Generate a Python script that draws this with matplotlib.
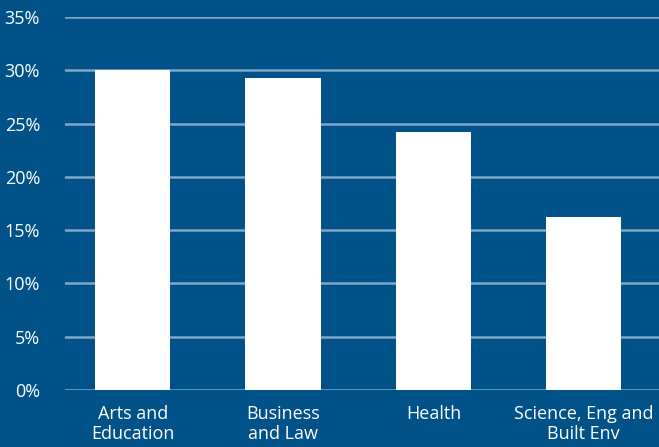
import matplotlib
matplotlib.use("Agg")
import matplotlib.pyplot as plt

categories = ["Arts and\nEducation", "Business\nand Law", "Health", "Science, Eng and\nBuilt Env"]
values = [30.0, 29.3, 24.2, 16.2]
yticks = [0, 5, 10, 15, 20, 25, 30, 35]

bg = "#005288"
grid = "#7fa6c6"

plt.rcParams["font.family"] = ["Open Sans", "DejaVu Sans"]

fig = plt.figure(figsize=(6.59, 4.47), dpi=100, facecolor=bg)
ax = fig.add_axes([65 / 659, 57 / 447, 1 - 65 / 659, 373 / 447])
ax.set_facecolor(bg)

x = range(len(categories))
ax.bar(x, values, width=0.5, color="white", zorder=3)

ax.set_ylim(0, 35)
ax.set_xlim(-0.45, 3.5)
ax.set_yticks(yticks)
ax.set_yticklabels([f"{v}%" for v in yticks])
ax.set_xticks(list(x))
ax.set_xticklabels(categories, linespacing=1.15)
ax.grid(axis="y", color=grid, linewidth=1.8, zorder=1)
ax.tick_params(axis="both", length=0, colors="white", labelsize=13)
ax.tick_params(axis="y", pad=18)
ax.tick_params(axis="x", pad=11)
for s in ax.spines.values():
    s.set_visible(False)

fig.savefig("out.png", dpi=100, facecolor=bg)
